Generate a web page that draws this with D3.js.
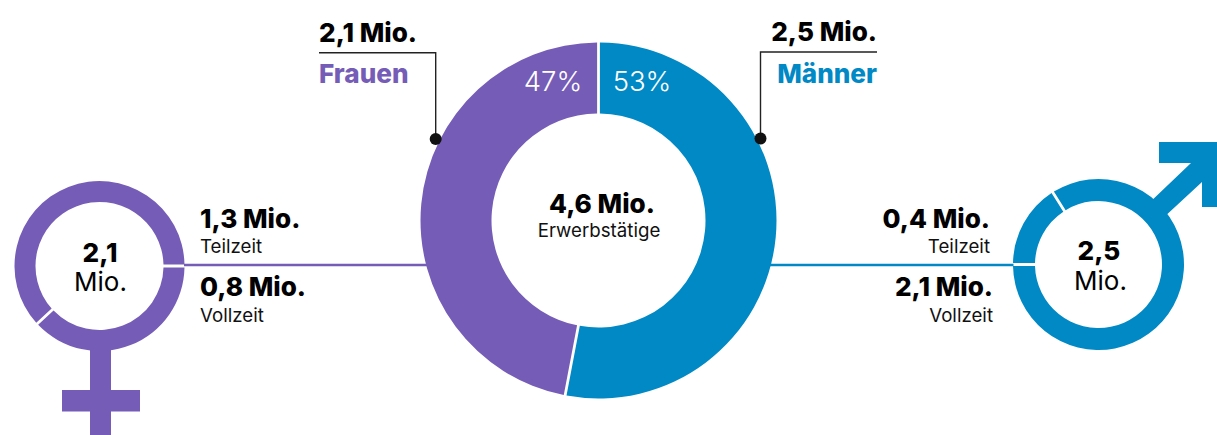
<!DOCTYPE html>
<html lang="de">
<head>
<meta charset="utf-8">
<script src="https://cdn.jsdelivr.net/npm/d3@7"></script>
<style>
  html, body { margin: 0; padding: 0; background: #fff; }
  svg { display: block; }
  text { font-family: Inter, "Liberation Sans", sans-serif; fill: #000; }
  .value { font-weight: 800; font-size: 26.1px; }
  .plain { font-weight: 400; font-size: 26px; }
  .pct { font-weight: 300; font-size: 27.5px; fill: #fff; }
  .small { font-weight: 400; font-size: 18.7px; fill: #111; }
</style>
</head>
<body>
<svg id="chart" width="1217" height="435"></svg>
<script>
// Erwerbstätige in Millionen
const totalWorkers = 4.6;
const genderNames = ["Männer", "Frauen"];
const genderShares = [53, 47];
const genderMillions = [2.5, 2.1];
const womenHours = [0.8, 1.3];   // Vollzeit, Teilzeit
const menHours = [0.4, 2.1];     // Teilzeit, Vollzeit

const PURPLE = "#755cb7";
const BLUE = "#0089c5";
const INK = "#222";
const GAP = 2.8;

const svg = d3.select("#chart");
const num = v => d3.format(".1f")(v).replace(".", ",");
const mio = v => num(v) + " Mio.";

// Ring whose segments are separated by a gap of constant width
function donut(cx, cy, inner, outer, values, color, startAngle) {
  const pie = d3.pie().sort(null)
    .startAngle(startAngle)
    .endAngle(startAngle + 2 * Math.PI);
  const arc = d3.arc()
    .innerRadius(inner).outerRadius(outer)
    .padRadius(outer).padAngle(GAP / outer);
  svg.append("g")
    .attr("transform", `translate(${cx},${cy})`)
    .selectAll("path")
    .data(pie(values))
    .join("path")
    .attr("d", arc)
    .attr("fill", (d, i) => Array.isArray(color) ? color[i] : color);
}

function label(x, y, str, cls, anchor, fill) {
  const t = svg.append("text")
    .attr("x", x).attr("y", y)
    .attr("class", cls)
    .attr("text-anchor", anchor || "start")
    .text(str);
  if (fill) t.style("fill", fill);
  return t;
}

// Connectors between the central ring and the two gender symbols
svg.append("line").attr("x1", 184).attr("x2", 432).attr("y1", 265).attr("y2", 265)
  .attr("stroke", PURPLE).attr("stroke-width", 2.6);
svg.append("line").attr("x1", 765).attr("x2", 1013.5).attr("y1", 265).attr("y2", 265)
  .attr("stroke", BLUE).attr("stroke-width", 2.6);

// Central ring, clockwise from twelve o'clock
donut(598.5, 220.5, 107, 178, genderShares, [BLUE, PURPLE], 0);

// Part-time / full-time rings
donut(99.5, 266, 64, 85, womenHours, PURPLE, Math.PI / 2);
donut(1098.5, 264.5, 63.5, 85.5, menHours, BLUE, -Math.PI / 2);

// Venus symbol: stem and crossbar
svg.append("rect").attr("x", 90).attr("y", 345).attr("width", 21).attr("height", 90).attr("fill", PURPLE);
svg.append("rect").attr("x", 62).attr("y", 390).attr("width", 78).attr("height", 21.5).attr("fill", PURPLE);

// Mars symbol: shaft and arrow head
svg.append("path")
  .attr("d", "M1147,205 L1191,163 L1159,163 L1159,142 L1217,142 L1217,207 L1202,207 L1202,182 L1162,219 Z")
  .attr("fill", BLUE);

// Leader lines with end dots
svg.append("path").attr("d", "M319,52.7 H435.7 V139")
  .attr("fill", "none").attr("stroke", INK).attr("stroke-width", 1.4);
svg.append("circle").attr("cx", 435.7).attr("cy", 139).attr("r", 6).attr("fill", "#111");
svg.append("path").attr("d", "M877,52 H760.5 V138")
  .attr("fill", "none").attr("stroke", INK).attr("stroke-width", 1.4);
svg.append("circle").attr("cx", 760.5).attr("cy", 138.5).attr("r", 6).attr("fill", "#111");

// Headline labels
label(319, 41.5, mio(genderMillions[1]), "value");
label(319, 83, genderNames[1], "value", "start", PURPLE);
label(877, 40.5, mio(genderMillions[0]), "value", "end");
label(877, 83, genderNames[0], "value", "end", BLUE);

// Shares on the central ring
label(553, 90.5, genderShares[1] + "%", "pct", "middle");
label(642, 90.5, genderShares[0] + "%", "pct", "middle");

// Centre of the central ring
label(602, 212.5, mio(totalWorkers), "value", "middle");
label(599, 236.5, "Erwerbstätige", "small", "middle");

// Women
label(100, 261.5, num(genderMillions[1]), "value", "middle");
label(100.5, 290.5, "Mio.", "plain", "middle");
label(200, 228, mio(womenHours[1]), "value");
label(200, 252.5, "Teilzeit", "small");
label(200, 296, mio(womenHours[0]), "value");
label(200, 321.5, "Vollzeit", "small");

// Men
label(1099, 259.5, num(genderMillions[0]), "value", "middle");
label(1100.5, 289.5, "Mio.", "plain", "middle");
label(990, 228, mio(menHours[0]), "value", "end");
label(990, 252.5, "Teilzeit", "small", "end");
label(993, 296, mio(menHours[1]), "value", "end");
label(993, 321.5, "Vollzeit", "small", "end");
</script>
</body>
</html>
